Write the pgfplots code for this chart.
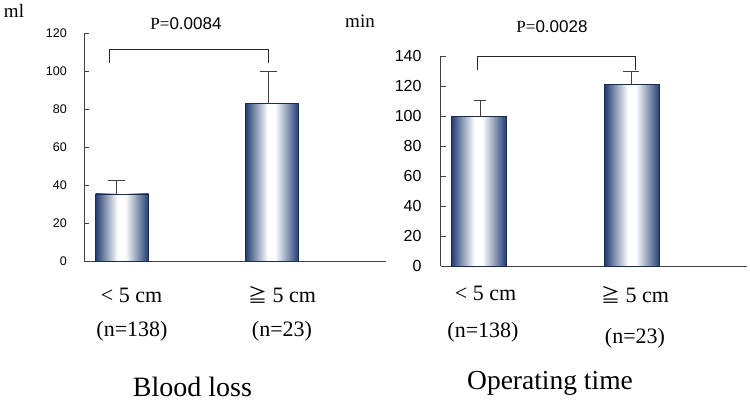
\documentclass[border=0pt]{standalone}
\usepackage{pgfplots}
\pgfplotsset{compat=1.18}
\usepackage{fontspec}
\setmainfont{Liberation Serif}
\setsansfont{Liberation Sans}
\newfontfamily\jp{Noto Sans CJK JP}
\definecolor{navy}{HTML}{233E72}
\definecolor{edge}{HTML}{1A2C4E}
\pgfdeclarehorizontalshading{barshade}{100bp}{color(0bp)=(navy); color(25bp)=(navy); color(46bp)=(white); color(53bp)=(white); color(75bp)=(navy); color(100bp)=(navy)}
\newcommand{\fs}[1]{\fontsize{#1}{#1}\selectfont}
\begin{document}
\begin{tikzpicture}[x=1pt,y=1pt]
\useasboundingbox (0,0) rectangle (750,404);
\pgfplotsset{
  panel/.style={
    scale only axis, anchor=south west, clip=false,
    axis lines=left, axis line style={-, black!75, line width=0.6pt},
    xtick=\empty, tick align=inside, major tick length=5pt,
    tick style={black!75, line width=0.6pt},
    /pgf/number format/assume math mode=true,
    ymin=0, xmin=0,
  },
  barsty/.style={ybar, draw=edge, line width=0.8pt, shading=barshade},
  errsty/.style={draw=none, forget plot, error bars/.cd, y dir=plus, y explicit,
    error bar style={draw=black!75, line width=0.7pt, solid},
    error mark options={draw=black!75, rotate=90, mark size=#1, line width=0.7pt, solid}},
}
% ---------- Left panel: Blood loss ----------
\begin{axis}[panel, at={(84pt,143pt)}, width=302pt, height=228pt,
  xmax=302, ymax=120, ytick={0,20,...,120},
  yticklabel style={font=\sffamily\fs{12.5}, inner sep=0pt, anchor=east, xshift=-17pt}]
\addplot[barsty, bar width=53pt] coordinates {(38,35.3)};
\addplot[barsty, bar width=53pt] coordinates {(188,82.8)};
\addplot[errsty=8.5pt] coordinates {(32.7,35.3) +- (0,7.4) (184,82.8) +- (0,17)};
\addplot[black!85, line width=0.7pt, mark=none] coordinates {(25,104.4) (25,111.3) (184,111.3) (184,104.4)};
\end{axis}
% ---------- Right panel: Operating time ----------
\begin{axis}[panel, at={(440.7pt,138pt)}, width=306pt, height=210pt,
  xmax=306, ymax=140, ytick={0,20,...,140},
  yticklabel style={font=\sffamily\fs{16}, inner sep=0pt, anchor=east, xshift=-19pt}]
\addplot[barsty, bar width=55pt] coordinates {(38.2,99.5)};
\addplot[barsty, bar width=55pt] coordinates {(191.6,121.2)};
\addplot[errsty=6pt] coordinates {(39.3,99.5) +- (0,11.2)};
\addplot[errsty=8pt] coordinates {(190.3,121.2) +- (0,8.3)};
\addplot[black!85, line width=0.7pt, mark=none] coordinates {(37,130.7) (37,140) (194.3,140) (194.3,130.7)};
\end{axis}
% ---------- Texts ----------
\node at (14,393) {\fs{19}ml};
\node at (360,382.3) {\fs{19}min};
\node at (186,380) {\fs{17}P=\sffamily 0.0084};
\node at (552,377) {\fs{17}P=\sffamily 0.0028};
\node at (131.5,109) {\fs{22}< 5 cm};
\node at (282,109) {\fs{22}{\jp\fs{19}≧} 5 cm};
\node at (132,73) {\fs{22}(n=138)};
\node at (282,73) {\fs{22}(n=23)};
\node at (192.5,17) {\fs{28}Blood loss};
\node at (485.5,111) {\fs{22}< 5 cm};
\node at (635,109) {\fs{22}{\jp\fs{19}≧} 5 cm};
\node at (483,72) {\fs{22}(n=138)};
\node at (635,66) {\fs{22}(n=23)};
\node at (550,21) {\fs{27.5}Operating time};
\end{tikzpicture}
\end{document}
